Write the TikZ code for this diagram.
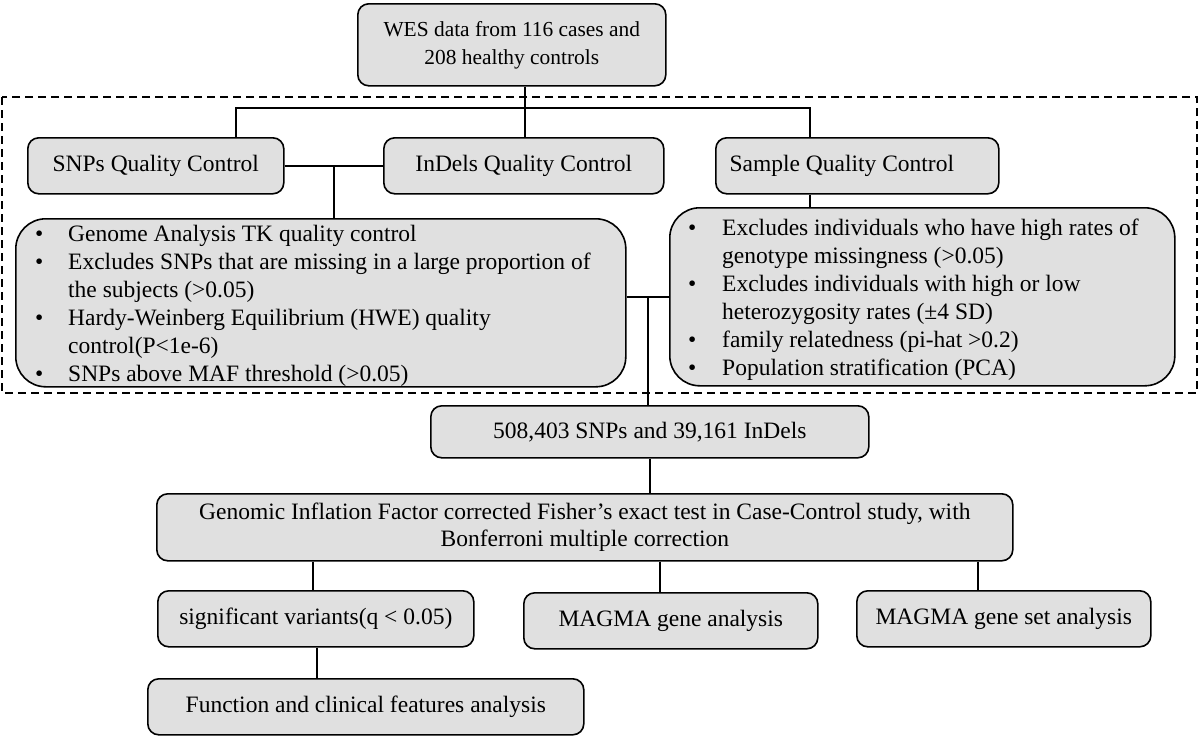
\documentclass[tikz,border=0pt]{standalone}
\usepackage{fontspec}
\setmainfont{Liberation Serif}
\usetikzlibrary{positioning}
\definecolor{boxgray}{HTML}{E0E0E0}
\tikzset{
  box/.style={draw, line width=1.6pt, fill=boxgray, rounded corners=11pt, inner sep=0pt, anchor=north west, font=\fontsize{23.5}{27}\selectfont, align=center},
  bigbox/.style={box, rounded corners=30pt},
  ln/.style={line width=1.4pt},
  txt/.style={inner sep=0pt, anchor=base west, font=\fontsize{23.5}{28}\selectfont, align=left}
}
\begin{document}
\begin{tikzpicture}[x=1pt,y=-1pt]
\useasboundingbox (0,0) rectangle (1200,736);
% dashed frame
\draw[line width=1.6pt, dash pattern=on 8pt off 5pt] (2,97) rectangle (1197,393);
% boxes
\node[box, minimum width=308pt, minimum height=82pt, font=\fontsize{21.4}{28}\selectfont] (wes) at (357,3) {WES data from 116 cases and\\208 healthy controls};
\node[box, minimum width=256pt, minimum height=56pt] (snps) at (27,137) {SNPs Quality Control};
\node[box, minimum width=280pt, minimum height=56pt] (indels) at (383,137) {InDels Quality Control};
\node[box, minimum width=283pt, minimum height=56pt] (sample) at (715,137) {Sample Quality Control\hspace{31pt}};
\node[bigbox, minimum width=610pt, minimum height=168pt] (left) at (15,218) {};
\node[bigbox, minimum width=505pt, minimum height=178pt] (right) at (669,207) {};
\node[txt] (lefttxt) at (35,241) {\begin{tabular}[t]{@{}p{33pt}@{}l@{}}
\textbullet & Genome Analysis TK quality control\\
\textbullet & Excludes SNPs that are missing in a large proportion of\\
 & the subjects (>0.05)\\
\textbullet & Hardy-Weinberg Equilibrium (HWE) quality\\
 & control(P<1e-6)\\
\textbullet & SNPs above MAF threshold (>0.05)
\end{tabular}};
\node[txt] (righttxt) at (688,235) {\begin{tabular}[t]{@{}p{34pt}@{}l@{}}
\textbullet & Excludes individuals who have high rates of\\
 & genotype missingness (>0.05)\\
\textbullet & Excludes individuals with high or low\\
 & heterozygosity rates (±4 SD)\\
\textbullet & family relatedness (pi-hat >0.2)\\
\textbullet & Population stratification (PCA)
\end{tabular}};
\node[box, minimum width=438pt, minimum height=52pt] (count) at (430,405) {508,403 SNPs and 39,161 InDels};
\node[box, minimum width=856pt, minimum height=67pt] (genomic) at (156,493) {Genomic Inflation Factor corrected Fisher’s exact test in Case-Control study, with\\Bonferroni multiple correction};
\node[box, minimum width=316pt, minimum height=56pt] (sig) at (157,590) {significant variants(q < 0.05)};
\node[box, minimum width=294pt, minimum height=56pt] (magma) at (523,592) {MAGMA gene analysis};
\node[box, minimum width=294pt, minimum height=56pt] (magmaset) at (856,590) {MAGMA gene set analysis};
\node[box, minimum width=436pt, minimum height=56pt] (func) at (147,678) {Function and clinical features analysis};
% connectors
\coordinate (hL) at (236,108);
\coordinate (hR) at (810,108);
\coordinate (hM) at (525,108);
\draw[ln] (hM |- wes.south) -- (hM |- indels.north);
\draw[ln] (hL |- snps.north) -- (hL) -- (hR) -- (hR |- sample.north);
\draw[ln] (snps.east) -- (indels.west);
\coordinate (m1) at (334,165);
\draw[ln] (m1) -- (m1 |- left.north);
\draw[ln] (hR |- sample.south) -- (hR |- right.north);
\coordinate (m2) at (648,297);
\draw[ln] (m2 -| left.east) -- (m2 -| right.west);
\draw[ln] (m2) -- (m2 |- count.north);
\draw[ln] (count.south) -- (count.south |- genomic.north);
\coordinate (v1) at (313,560);
\coordinate (v2) at (660,560);
\coordinate (v3) at (978,560);
\draw[ln] (v1 |- genomic.south) -- (v1 |- sig.north);
\draw[ln] (v2 |- genomic.south) -- (v2 |- magma.north);
\draw[ln] (v3 |- genomic.south) -- (v3 |- magmaset.north);
\coordinate (v4) at (317,646);
\draw[ln] (v4 |- sig.south) -- (v4 |- func.north);
\end{tikzpicture}
\end{document}
